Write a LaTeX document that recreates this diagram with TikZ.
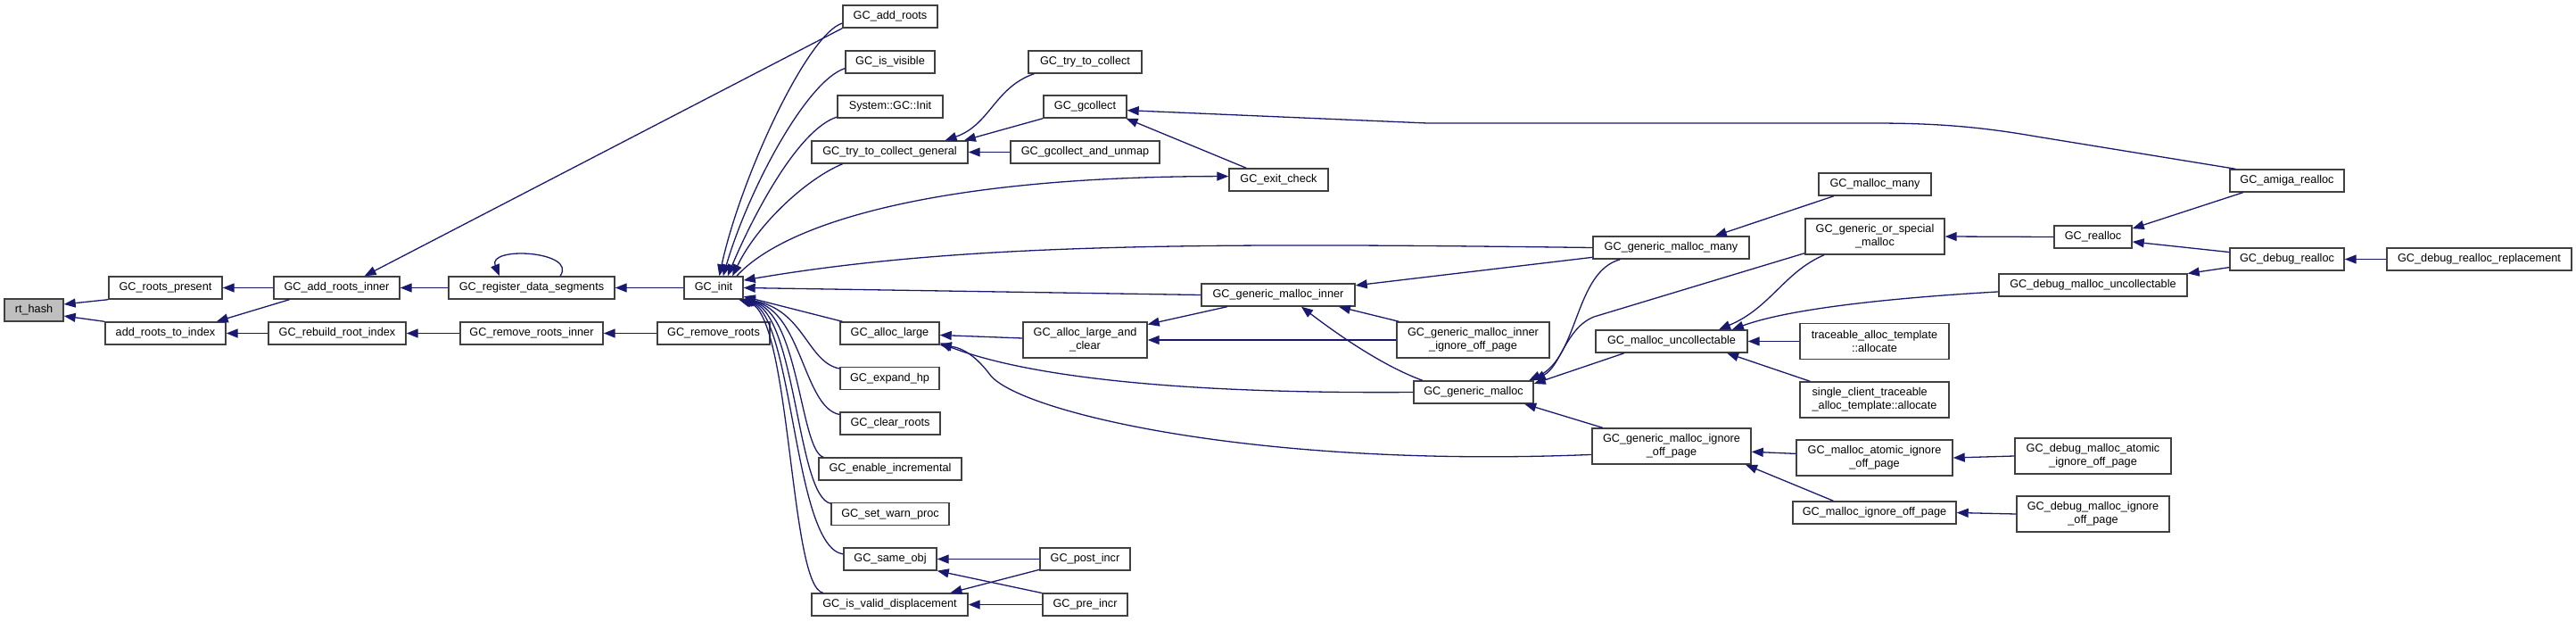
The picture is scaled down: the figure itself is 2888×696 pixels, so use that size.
\documentclass[tikz,border=0pt]{standalone}
\usepackage{fontspec}
\setmainfont{Liberation Sans}
\usetikzlibrary{arrows.meta}
\definecolor{EdgeBlue}{HTML}{191970}
\definecolor{BoxLine}{HTML}{404040}
\definecolor{CurFill}{HTML}{BFBFBF}

\begin{document}
\begin{tikzpicture}[x=1pt,y=1pt,
  fn/.style={draw=BoxLine,fill=white,line width=1.4pt,minimum height=25pt,inner xsep=2pt,inner ysep=1pt,align=center,font=\fontsize{12.7}{15}\selectfont},
  two/.style={minimum height=40pt},
  cur/.style={fill=CurFill},
  call/.style={draw=EdgeBlue,line width=1.3pt,-{Triangle[length=13pt,width=10pt]}},
]
\useasboundingbox (0,0) rectangle (2888,-696);
% columns 1-4
\node[fn,cur,minimum width=66pt] (rthash) at (38,-347.5) {rt\_hash};
\node[fn,minimum width=127pt] (present) at (185.5,-322.5) {GC\_roots\_present};
\node[fn,minimum width=135pt] (addindex) at (185.5,-373.5) {add\_roots\_to\_index};
\node[fn,minimum width=141pt] (addinner) at (377.5,-322.5) {GC\_add\_roots\_inner};
\node[fn,minimum width=154pt] (rebuild) at (378,-373.5) {GC\_rebuild\_root\_index};
\node[fn,minimum width=186pt] (regdata) at (596,-322.5) {GC\_register\_data\_segments};
\node[fn,minimum width=160pt] (rminner) at (596,-373.5) {GC\_remove\_roots\_inner};
\node[fn,minimum width=66pt] (gcinit) at (800,-322.5) {GC\_init};
\node[fn,minimum width=126pt] (rmroots) at (800,-373.5) {GC\_remove\_roots};
% callers of GC_init
\node[fn,minimum width=106pt] (addroots) at (998,-18.5) {GC\_add\_roots};
\node[fn,minimum width=100pt] (visible) at (998,-69.5) {GC\_is\_visible};
\node[fn,minimum width=118pt] (sysinit) at (998,-119.5) {System::GC::Init};
\node[fn,minimum width=175pt] (trygen) at (997.5,-170.5) {GC\_try\_to\_collect\_general};
\node[fn,minimum width=111pt] (alloclarge) at (997.5,-373.5) {GC\_alloc\_large};
\node[fn,minimum width=111pt] (expandhp) at (997.5,-424) {GC\_expand\_hp};
\node[fn,minimum width=112pt] (clearroots) at (998,-474.5) {GC\_clear\_roots};
\node[fn,minimum width=160pt] (enableinc) at (998,-525.5) {GC\_enable\_incremental};
\node[fn,minimum width=132pt] (setwarn) at (998,-576) {GC\_set\_warn\_proc};
\node[fn,minimum width=104pt] (sameobj) at (998,-626.5) {GC\_same\_obj};
\node[fn,minimum width=175pt] (validdisp) at (997.5,-677.5) {GC\_is\_valid\_displacement};
% next column
\node[fn,minimum width=127pt] (trycollect) at (1216.5,-69.5) {GC\_try\_to\_collect};
\node[fn,minimum width=93pt] (gcollect) at (1216.5,-119.5) {GC\_gcollect};
\node[fn,minimum width=167pt] (unmap) at (1216.5,-170.5) {GC\_gcollect\_and\_unmap};
\node[fn,two,minimum width=139pt] (largeclear) at (1216.5,-381) {GC\_alloc\_large\_and\\\_clear};
\node[fn,minimum width=101pt] (postincr) at (1216.5,-626.5) {GC\_post\_incr};
\node[fn,minimum width=95pt] (preincr) at (1216.5,-677.5) {GC\_pre\_incr};
\node[fn,minimum width=111pt] (exitcheck) at (1433.5,-201.5) {GC\_exit\_check};
\node[fn,minimum width=172pt] (mallocinner) at (1433,-330.5) {GC\_generic\_malloc\_inner};
\node[fn,two,minimum width=171pt] (innerignore) at (1651.5,-381) {GC\_generic\_malloc\_inner\\\_ignore\_off\_page};
\node[fn,minimum width=134pt] (genmalloc) at (1652,-439.5) {GC\_generic\_malloc};
\node[fn,minimum width=175pt] (genmany) at (1873.5,-277.5) {GC\_generic\_malloc\_many};
\node[fn,minimum width=170pt] (uncoll) at (1874,-382.5) {GC\_malloc\_uncollectable};
\node[fn,two,minimum width=178pt] (ignoreoff) at (1874,-500) {GC\_generic\_malloc\_ignore\\\_off\_page};
% right part
\node[fn,minimum width=126pt] (mallocmany) at (2102,-206.5) {GC\_malloc\_many};
\node[fn,two,minimum width=156pt] (orspecial) at (2102,-265) {GC\_generic\_or\_special\\\_malloc};
\node[fn,two,minimum width=167pt] (traceable) at (2101.5,-382.5) {traceable\_alloc\_template\\::allocate};
\node[fn,two,minimum width=167pt,align=left] (single) at (2101.5,-448) {single\_client\_traceable\\\_alloc\_template::allocate};
\node[fn,two,minimum width=175pt] (atomicig) at (2101.5,-513) {GC\_malloc\_atomic\_ignore\\\_off\_page};
\node[fn,minimum width=183pt] (mallocig) at (2101.5,-574.5) {GC\_malloc\_ignore\_off\_page};
\node[fn,minimum width=87pt] (realloc) at (2346.5,-265.5) {GC\_realloc};
\node[fn,minimum width=211pt] (dbguncoll) at (2346.5,-319.5) {GC\_debug\_malloc\_uncollectable};
\node[fn,two,minimum width=175pt] (dbgatomic) at (2346.5,-511) {GC\_debug\_malloc\_atomic\\\_ignore\_off\_page};
\node[fn,two,minimum width=171pt] (dbgignore) at (2346.5,-576) {GC\_debug\_malloc\_ignore\\\_off\_page};
\node[fn,minimum width=128pt] (amiga) at (2564,-202.5) {GC\_amiga\_realloc};
\node[fn,minimum width=128pt] (dbgrealloc) at (2564,-290.5) {GC\_debug\_realloc};
\node[fn,minimum width=207pt] (replace) at (2779.5,-290.5) {GC\_debug\_realloc\_replacement};

% calls, arrow at the callee
\draw[call] (present.south west) -- (rthash.11);
\draw[call] (addindex.north west) -- (rthash.349);
\draw[call] (addinner.west) -- (present.east);
\draw[call] (addinner.194) -- (addindex.13);
\draw[call] (rebuild.west) -- (addindex.east);
\draw[call] (addroots.south west) -- (addinner.23);
\draw[call] (regdata.west) -- (addinner.east);
\draw[call] ([xshift=32pt]regdata.north) .. controls +(20,28) and +(-14,34) .. ([xshift=-36pt]regdata.north);
\draw[call] (gcinit.west) -- (regdata.east);
\draw[call] (rminner.west) -- (rebuild.east);
\draw[call] (rmroots.west) -- (rminner.east);

\draw[call] (addroots.188) .. controls (905,-38) and (830,-200) .. (gcinit.64);
\draw[call] (visible.188) .. controls (905,-90) and (840,-210) .. (gcinit.51);
\draw[call] (sysinit.191) .. controls (895,-145) and (845,-240) .. (gcinit.40);
\draw[call] (trygen.194) .. controls (905,-200) and (850,-250) .. (gcinit.32);
\draw[call] (gcinit.27) .. controls (880,-250) and (1050,-198) .. (exitcheck.176);
\draw[call] (genmany.west) .. controls (1350,-272) and (1080,-272) .. (gcinit.14);
\draw[call] (mallocinner.west) -- (gcinit.east);
\draw[call] (alloclarge.166) -- (gcinit.344);
\draw[call] (expandhp.169) .. controls (905,-406) and (902,-348) .. (gcinit.340);
\draw[call] (clearroots.170) .. controls (901,-457) and (899,-349) .. (gcinit.339);
\draw[call] (enableinc.170) .. controls (897,-505) and (896,-350) .. (gcinit.338);
\draw[call] (setwarn.170) .. controls (893,-556) and (893,-351) .. (gcinit.337);
\draw[call] (sameobj.174) .. controls (889,-613) and (890,-352) .. (gcinit.336);
\draw[call] (validdisp.170) .. controls (885,-657) and (887,-353) .. (gcinit.335);

\draw[call] ([xshift=7pt]trycollect.south west) .. controls (1115,-98) and (1110,-140) .. (trygen.12);
\draw[call] (gcollect.south west) -- (trygen.9);
\draw[call] (unmap.west) -- (trygen.east);
\draw[call] ([xshift=7pt]amiga.north west) -- (2283,-153) .. controls (2220,-142) and (2170,-138) .. (2100,-138) -- (1600,-138) -- (gcollect.355);
\draw[call] (exitcheck.160) -- (gcollect.344);

\draw[call] ([yshift=2pt]largeclear.west) -- ([yshift=-2pt]alloclarge.east);
\draw[call] (genmalloc.west) .. controls (1250,-442) and (1120,-410) .. (alloclarge.349);
\draw[call] (ignoreoff.186) .. controls (1400,-525) and (1140,-460) .. (1110,-420) .. controls (1095,-400) and (1080,-390) .. (alloclarge.347);
\draw[call] (mallocinner.193) -- (largeclear.14);
\draw[call] (innerignore.west) -- (largeclear.east);
\draw[call] (genmany.187) -- (mallocinner.7);
\draw[call] (innerignore.166) -- (mallocinner.349);
\draw[call] (genmalloc.167) .. controls (1550,-410) and (1500,-375) .. (mallocinner.333);
\draw[call] (genmany.193) .. controls (1765,-305) and (1770,-400) .. (genmalloc.12);
\draw[call] ([yshift=2pt]orspecial.south west) -- (1787,-355) .. controls (1755,-368) and (1750,-410) .. (genmalloc.11);
\draw[call] (uncoll.194) -- (genmalloc.8);
\draw[call] (ignoreoff.165) -- (genmalloc.347);
\draw[call] (mallocmany.196) -- (genmany.15);
\draw[call] (orspecial.200) .. controls (2000,-305) and (1985,-345) .. (uncoll.14);
\draw[call] (dbguncoll.184) .. controls (2100,-335) and (2000,-348) .. (uncoll.11);
\draw[call] (traceable.west) -- (uncoll.east);
\draw[call] (single.164) -- (uncoll.348);
\draw[call] (realloc.west) -- (orspecial.east);
\draw[call] (amiga.195) -- (realloc.12);
\draw[call] (dbgrealloc.173) -- (realloc.353);
\draw[call] (dbgrealloc.188) -- (dbguncoll.7);
\draw[call] (replace.west) -- (dbgrealloc.east);
\draw[call] (atomicig.177) -- (ignoreoff.356);
\draw[call] (mallocig.164) -- (ignoreoff.346);
\draw[call] (dbgatomic.west) -- (atomicig.east);
\draw[call] (dbgignore.west) -- (mallocig.east);
\draw[call] (postincr.west) -- (sameobj.east);
\draw[call] (preincr.165) -- (sameobj.346);
\draw[call] (postincr.193) -- (validdisp.11);
\draw[call] (preincr.west) -- (validdisp.east);
\end{tikzpicture}
\end{document}
